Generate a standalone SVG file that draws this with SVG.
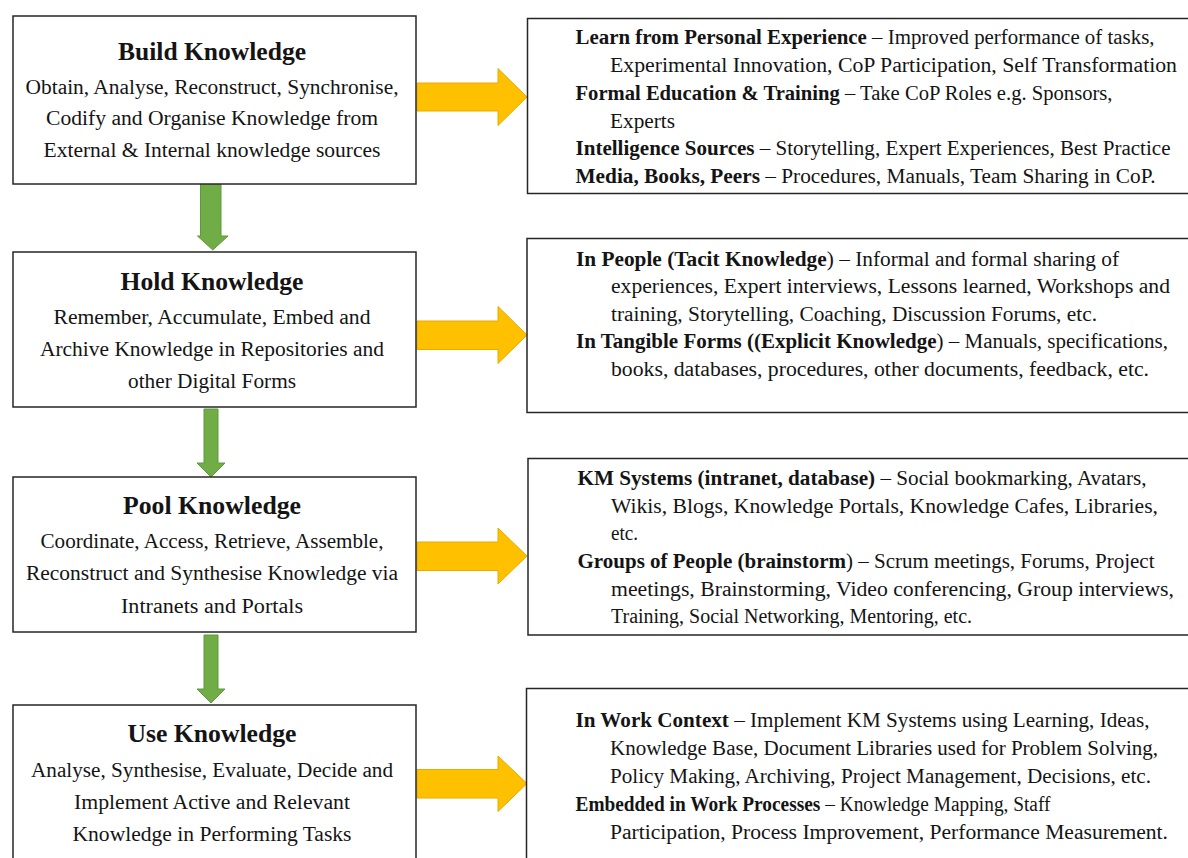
<svg xmlns="http://www.w3.org/2000/svg" width="1188" height="858" viewBox="0 0 1188 858">
<style>
.box{fill:#fff;stroke:#262626;stroke-width:1.5}
text{font-family:"Liberation Serif",serif;fill:#141414}
.title{font-size:24.5px;font-weight:bold;text-anchor:middle}
.body{font-size:20px;text-anchor:middle}
.rt{font-size:20px}
.b{font-weight:bold}
.ya{fill:#FFC000;stroke:#E6AC00;stroke-width:1}
.ga{fill:#70AD47;stroke:#5E9A3A;stroke-width:1}
</style>
<rect width="1188" height="858" fill="#fff"/>
<g id="connectors">
<polygon class="ga" points="200.5,182 221,182 221,236 228,236 212.8,250 197.5,236 200.5,236"/>
<polygon class="ga" points="204,409 218,409 218,463 225,463 211,477 197,463 204,463"/>
<polygon class="ga" points="204,635 218,635 218,689 225,689 211,703 197,689 204,689"/>
<polygon class="ya" points="417,83 498,83 498,68.5 527,97 498,125.5 498,111 417,111"/>
<polygon class="ya" points="417,321 498,321 498,306.5 527,335 498,363.5 498,349.5 417,349.5"/>
<polygon class="ya" points="417,542 498,542 498,528 527,556 498,584 498,570.5 417,570.5"/>
<polygon class="ya" points="417,769.5 498,769.5 498,756 527,783.5 498,811.5 498,798 417,798"/>
</g>
<g id="build">
<rect class="box" x="13" y="16" width="403" height="168"/>
<text class="title" x="212" y="60" textLength="188" lengthAdjust="spacingAndGlyphs">Build Knowledge</text>
<text class="body" x="212" y="94" textLength="373" lengthAdjust="spacingAndGlyphs">Obtain, Analyse, Reconstruct, Synchronise,</text>
<text class="body" x="212" y="125" textLength="332" lengthAdjust="spacingAndGlyphs">Codify  and Organise Knowledge from</text>
<text class="body" x="212" y="157" textLength="337" lengthAdjust="spacingAndGlyphs">External &amp; Internal knowledge sources</text>
</g>
<g id="hold">
<rect class="box" x="13" y="252" width="403" height="155"/>
<text class="title" x="212" y="290" textLength="183" lengthAdjust="spacingAndGlyphs">Hold Knowledge</text>
<text class="body" x="212" y="323.5" textLength="317" lengthAdjust="spacingAndGlyphs">Remember, Accumulate, Embed and</text>
<text class="body" x="212" y="355.5" textLength="344" lengthAdjust="spacingAndGlyphs">Archive Knowledge in Repositories and</text>
<text class="body" x="212" y="388" textLength="168" lengthAdjust="spacingAndGlyphs">other Digital Forms</text>
</g>
<g id="pool">
<rect class="box" x="13" y="477" width="403" height="155"/>
<text class="title" x="212" y="513.5" textLength="178" lengthAdjust="spacingAndGlyphs">Pool Knowledge</text>
<text class="body" x="212" y="547.5" textLength="343" lengthAdjust="spacingAndGlyphs">Coordinate, Access, Retrieve, Assemble,</text>
<text class="body" x="212" y="580" textLength="372" lengthAdjust="spacingAndGlyphs">Reconstruct and Synthesise Knowledge via</text>
<text class="body" x="212" y="612.5" textLength="182" lengthAdjust="spacingAndGlyphs">Intranets and Portals</text>
</g>
<g id="use">
<rect class="box" x="13" y="705" width="403" height="170"/>
<text class="title" x="212" y="741.5" textLength="169" lengthAdjust="spacingAndGlyphs">Use Knowledge</text>
<text class="body" x="212" y="776.5" textLength="362" lengthAdjust="spacingAndGlyphs">Analyse, Synthesise, Evaluate, Decide and</text>
<text class="body" x="212" y="808.5" textLength="276" lengthAdjust="spacingAndGlyphs">Implement Active and Relevant</text>
<text class="body" x="212" y="841" textLength="279" lengthAdjust="spacingAndGlyphs">Knowledge in Performing Tasks</text>
</g>
<g id="build-sources">
<rect class="box" x="527.5" y="18.5" width="680" height="175"/>
<text class="rt" x="575.5" y="43.5" textLength="579" lengthAdjust="spacingAndGlyphs"><tspan class="b">Learn from Personal Experience</tspan> – Improved performance of tasks,</text>
<text class="rt" x="610" y="71.5" textLength="567" lengthAdjust="spacingAndGlyphs">Experimental Innovation, CoP Participation, Self Transformation</text>
<text class="rt" x="575.5" y="99.5" textLength="537" lengthAdjust="spacingAndGlyphs"><tspan class="b">Formal Education &amp; Training</tspan> – Take CoP Roles e.g. Sponsors,</text>
<text class="rt" x="610" y="127.5" textLength="65" lengthAdjust="spacingAndGlyphs">Experts</text>
<text class="rt" x="575.5" y="155" textLength="595" lengthAdjust="spacingAndGlyphs"><tspan class="b">Intelligence Sources</tspan> – Storytelling, Expert Experiences, Best Practice</text>
<text class="rt" x="575.5" y="182.5" textLength="580" lengthAdjust="spacingAndGlyphs"><tspan class="b">Media, Books, Peers</tspan> – Procedures, Manuals, Team Sharing in CoP.</text>
</g>
<g id="hold-forms">
<rect class="box" x="527" y="238.5" width="680" height="174"/>
<text class="rt" x="576" y="265.5" textLength="543" lengthAdjust="spacingAndGlyphs"><tspan class="b">In People (Tacit Knowledge</tspan>) – Informal and formal sharing of</text>
<text class="rt" x="611" y="293" textLength="559" lengthAdjust="spacingAndGlyphs">experiences, Expert interviews, Lessons learned, Workshops and</text>
<text class="rt" x="611" y="320.5" textLength="486" lengthAdjust="spacingAndGlyphs">training, Storytelling, Coaching, Discussion Forums, etc.</text>
<text class="rt" x="576" y="348" textLength="592" lengthAdjust="spacingAndGlyphs"><tspan class="b">In Tangible Forms ((Explicit Knowledge</tspan>) – Manuals, specifications,</text>
<text class="rt" x="611" y="376" textLength="538" lengthAdjust="spacingAndGlyphs">books, databases, procedures, other documents, feedback, etc.</text>
</g>
<g id="pool-systems">
<rect class="box" x="528" y="458.5" width="680" height="176.5"/>
<text class="rt" x="577.5" y="485" textLength="569" lengthAdjust="spacingAndGlyphs"><tspan class="b">KM Systems (intranet, database)</tspan> – Social bookmarking, Avatars,</text>
<text class="rt" x="611" y="512.5" textLength="547" lengthAdjust="spacingAndGlyphs">Wikis, Blogs, Knowledge Portals, Knowledge Cafes, Libraries,</text>
<text class="rt" x="611" y="540" textLength="27" lengthAdjust="spacingAndGlyphs">etc.</text>
<text class="rt" x="577.5" y="568" textLength="577" lengthAdjust="spacingAndGlyphs"><tspan class="b">Groups of People (brainstorm</tspan>) – Scrum meetings, Forums, Project</text>
<text class="rt" x="611" y="596" textLength="563" lengthAdjust="spacingAndGlyphs">meetings, Brainstorming, Video conferencing, Group interviews,</text>
<text class="rt" x="611" y="623" textLength="361" lengthAdjust="spacingAndGlyphs">Training, Social Networking, Mentoring, etc.</text>
</g>
<g id="use-context">
<rect class="box" x="526.5" y="688.5" width="680" height="190"/>
<text class="rt" x="575.5" y="727" textLength="574" lengthAdjust="spacingAndGlyphs"><tspan class="b">In Work Context</tspan> – Implement KM Systems using Learning, Ideas,</text>
<text class="rt" x="610" y="755" textLength="548" lengthAdjust="spacingAndGlyphs">Knowledge Base, Document Libraries used for Problem Solving,</text>
<text class="rt" x="610" y="783" textLength="541" lengthAdjust="spacingAndGlyphs">Policy Making, Archiving, Project Management, Decisions, etc.</text>
<text class="rt" x="575.5" y="810.5" textLength="475" lengthAdjust="spacingAndGlyphs"><tspan class="b">Embedded in Work Processes</tspan> – Knowledge Mapping, Staff</text>
<text class="rt" x="610" y="838.5" textLength="558" lengthAdjust="spacingAndGlyphs">Participation, Process Improvement, Performance Measurement.</text>
</g>
</svg>
